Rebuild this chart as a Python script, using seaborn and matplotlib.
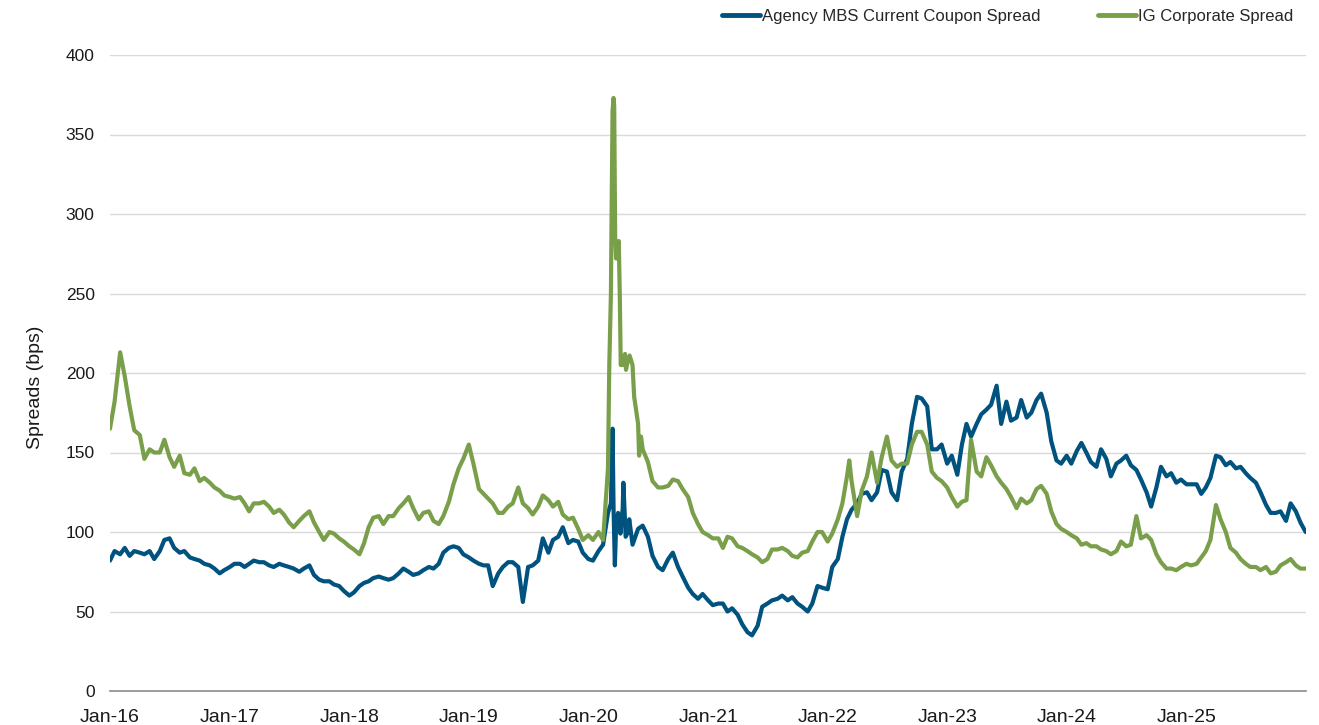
import pandas as pd
import matplotlib.pyplot as plt
import matplotlib.dates as mdates
import seaborn as sns

# semi-monthly observations (1st and 15th), Jan-2016 .. Dec-2025
dates = pd.date_range('2016-01-01', '2025-12-15', freq='SMS')
end_date = '2025-12-31'

mbs_vals = [
    # 2016
    82, 88, 86, 90, 85, 88, 87, 86, 88, 83, 88, 95, 96, 90, 87, 88, 84, 83, 82, 80, 79, 77, 74, 76,
    # 2017
    78, 80, 80, 78, 80, 82, 81, 81, 79, 78, 80, 79, 78, 77, 75, 77, 79, 73, 70, 69, 69, 67, 66, 63,
    # 2018
    60, 62, 66, 68, 69, 71, 72, 71, 70, 71, 74, 77, 75, 73, 74, 76, 78, 77, 80, 87, 90, 91, 90, 86,
    # 2019
    84, 82, 80, 79, 79, 66, 74, 78, 81, 81, 78, 56, 78, 79, 82, 96, 87, 95, 97, 103, 93, 95, 94, 87,
    # 2020
    83, 82, 88, 92, 112, 165, 112, 115, 100, 92, 102, 104, 97, 85, 78, 76, 83, 87, 78, 72, 65, 61, 58, 61,
    # 2021
    57, 54, 55, 55, 50, 52, 48, 42, 37, 35, 41, 53, 55, 57, 58, 60, 57, 59, 55, 53, 50, 55, 66, 65,
    # 2022
    64, 78, 83, 97, 108, 114, 118, 124, 125, 120, 125, 139, 138, 125, 120, 138, 146, 168, 185, 184, 179, 152, 152, 155,
    # 2023
    143, 148, 136, 155, 168, 160, 168, 174, 177, 180, 192, 168, 182, 170, 172, 183, 172, 175, 183, 187, 175, 157, 145, 143,
    # 2024
    148, 143, 151, 156, 150, 144, 141, 152, 146, 135, 143, 145, 148, 142, 139, 133, 125, 116, 128, 141, 135, 137, 131, 133,
    # 2025
    130, 130, 130, 124, 128, 134, 148, 147, 142, 144, 140, 141, 137, 134, 131, 125, 117, 112, 112, 113, 107, 118, 113, 106,
]
mbs_end = 100

ig_vals = [
    # 2016
    165, 182, 213, 198, 179, 164, 161, 146, 152, 150, 150, 158, 147, 141, 148, 137, 136, 140, 132, 134, 131, 128, 126, 123,
    # 2017
    122, 121, 122, 118, 113, 118, 118, 119, 116, 112, 114, 111, 106, 103, 107, 110, 113, 106, 100, 95, 100, 99, 96, 94,
    # 2018
    91, 89, 86, 93, 103, 109, 110, 105, 110, 110, 115, 118, 122, 115, 108, 112, 113, 107, 105, 110, 119, 130, 140, 146,
    # 2019
    155, 143, 127, 124, 121, 118, 112, 112, 116, 118, 128, 118, 115, 111, 116, 123, 120, 116, 119, 111, 108, 109, 102, 95,
    # 2020
    98, 95, 100, 95, 140, 365, 278, 205, 208, 205, 168, 152, 144, 132, 128, 128, 129, 133, 132, 127, 122, 112, 105, 100,
    # 2021
    98, 96, 96, 90, 97, 96, 91, 90, 88, 86, 84, 81, 83, 89, 89, 90, 88, 85, 84, 87, 88, 94, 100, 100,
    # 2022
    94, 99, 108, 118, 135, 132, 110, 126, 135, 150, 131, 147, 160, 145, 141, 143, 143, 155, 163, 163, 155, 138, 134, 132,
    # 2023
    128, 122, 116, 119, 120, 158, 138, 135, 147, 142, 135, 131, 127, 122, 115, 121, 118, 120, 127, 129, 124, 113, 105, 102,
    # 2024
    100, 98, 96, 92, 93, 91, 91, 89, 88, 86, 88, 94, 91, 92, 110, 96, 98, 95, 86, 81, 77, 77, 76, 78,
    # 2025
    80, 79, 80, 84, 88, 95, 117, 108, 100, 90, 87, 83, 80, 78, 78, 76, 78, 74, 75, 79, 81, 83, 79, 77,
]
ig_end = 77

# extra daily readings around the sharp moves
mbs_extra_dates = ['2020-03-10', '2020-03-18', '2020-03-22', '2020-03-26', '2020-04-08',
                   '2020-04-17', '2020-04-24', '2020-05-05']
mbs_extra_vals = [118, 115, 79, 105, 99, 131, 97, 108]

ig_extra_dates = ['2020-03-05', '2020-03-10', '2020-03-12', '2020-03-18', '2020-03-20',
                  '2020-03-23', '2020-03-26', '2020-04-03', '2020-04-06', '2020-04-09',
                  '2020-04-22', '2020-04-25', '2020-05-06', '2020-05-20', '2020-06-04',
                  '2020-06-10', '2022-03-08']
ig_extra_vals = [205, 250, 300, 373, 368, 285, 272, 283, 250, 205,
                 212, 202, 211, 185, 148, 160, 145]

mbs_name = 'Agency MBS Current Coupon Spread'
ig_name = 'IG Corporate Spread'
colors = {mbs_name: '#00527F', ig_name: '#7A9F4A'}


def build(name, vals, extra_dates, extra_vals, end_val):
    s = pd.concat([
        pd.Series(vals, index=dates),
        pd.Series(extra_vals, index=pd.to_datetime(extra_dates)),
        pd.Series([end_val], index=[pd.Timestamp(end_date)]),
    ]).sort_index()
    return pd.DataFrame({'date': s.index, 'spread': s.values, 'series': name})


df = pd.concat([
    build(mbs_name, mbs_vals, mbs_extra_dates, mbs_extra_vals, mbs_end),
    build(ig_name, ig_vals, ig_extra_dates, ig_extra_vals, ig_end),
], ignore_index=True)

sns.set_theme(style='white')
plt.rcParams['font.family'] = ['Liberation Sans', 'DejaVu Sans']

fig = plt.figure(figsize=(13.19, 7.25), dpi=100)
ax = fig.add_axes([110 / 1319, 34 / 725, 1196 / 1319, 636 / 725])

sns.lineplot(data=df, x='date', y='spread', hue='series', hue_order=[mbs_name, ig_name],
             palette=colors, linewidth=3.0, estimator=None, sort=True, ax=ax)

ax.set_ylim(0, 400)
ax.set_yticks(range(0, 401, 50))
ax.set_xlim(pd.Timestamp('2016-01-01'), pd.Timestamp('2026-01-01'))
ax.set_xticks(pd.date_range('2016-01-01', '2025-01-01', freq='YS'))
ax.xaxis.set_major_formatter(mdates.DateFormatter('%b-%y'))

ax.grid(axis='y', color='#D9D9D9', linewidth=1)
ax.grid(axis='x', visible=False)
for side in ['top', 'right', 'left']:
    ax.spines[side].set_visible(False)
ax.spines['bottom'].set_color('#8C8C8C')
ax.spines['bottom'].set_linewidth(1.2)

ax.tick_params(axis='y', length=0, pad=11, labelsize=12.5, labelcolor='#1A1A1A')
ax.tick_params(axis='x', length=0, pad=13, labelsize=14, labelcolor='#1A1A1A')

ax.set_xlabel('')
ax.set_ylabel('Spreads (bps)', fontsize=14, color='#1A1A1A')
ax.yaxis.set_label_coords(-(110 - 44) / 1196, 0.478)

handles, labels = ax.get_legend_handles_labels()
leg = ax.legend(handles, labels, loc='center right', ncol=2, frameon=False,
                bbox_to_anchor=(1293 / 1319, 1 - 16 / 725), bbox_transform=fig.transFigure,
                fontsize=12, handlelength=2.3, handletextpad=0.1, columnspacing=3.45,
                borderpad=0, borderaxespad=0)
for line in leg.get_lines():
    line.set_linewidth(3.5)

fig.savefig('out.png', dpi=100)
